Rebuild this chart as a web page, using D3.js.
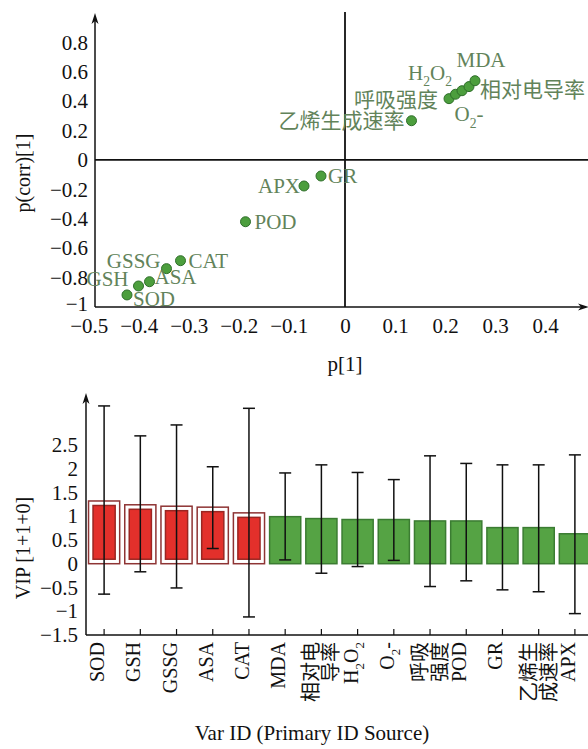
<!DOCTYPE html>
<html>
<head>
<meta charset="utf-8">
<script src="https://cdn.jsdelivr.net/npm/d3@7/dist/d3.min.js"></script>
<style>
  body { margin: 0; background: #fff; }
  svg { display: block; }
  text { font-family: "Liberation Serif", "Noto Sans CJK SC", serif; }
</style>
</head>
<body>
<svg width="588" height="749"></svg>
<script>
// ---- scatter (loadings) data ----
var varNames = ["MDA", "相对电导率", "H2O2", "O2-", "呼吸强度", "乙烯生成速率", "GR", "APX", "POD", "CAT", "GSSG", "ASA", "GSH", "SOD"];
var pX    = [0.260, 0.248, 0.234, 0.221, 0.208, 0.133, -0.048, -0.082, -0.199, -0.329, -0.357, -0.391, -0.413, -0.436];
var pCorr = [0.539, 0.499, 0.471, 0.447, 0.417, 0.267, -0.109, -0.177, -0.420, -0.685, -0.739, -0.828, -0.857, -0.918];
var xTicks = [-0.5, -0.4, -0.3, -0.2, -0.1, 0, 0.1, 0.2, 0.3, 0.4];
var yTicks = [-1, -0.8, -0.6, -0.4, -0.2, 0, 0.2, 0.4, 0.6, 0.8];

// ---- VIP data ----
var vipNames  = ["SOD", "GSH", "GSSG", "ASA", "CAT", "MDA", "相对电导率", "H2O2", "O2-", "呼吸强度", "POD", "GR", "乙烯生成速率", "APX"];
var vipValues = [1.32, 1.24, 1.21, 1.19, 1.07, 0.99, 0.95, 0.93, 0.93, 0.90, 0.90, 0.76, 0.76, 0.63];
var vipHigh   = [3.32, 2.69, 2.92, 2.04, 3.27, 1.91, 2.08, 1.92, 1.77, 2.27, 2.11, 2.08, 2.08, 2.29];
var vipLow    = [-0.64, -0.17, -0.51, 0.32, -1.12, 0.08, -0.20, -0.06, 0.07, -0.48, -0.36, -0.55, -0.59, -1.05];
var vipSelected = [true, true, true, true, true, false, false, false, false, false, false, false, false, false];
var vipTicks = [-1.5, -1, -0.5, 0, 0.5, 1, 1.5, 2, 2.5];

// label placement for the scatter (dx, dy, anchor)
var labelPos = {
  "MDA": [6, -14, "middle"], "相对电导率": [11, 10, "start"], "H2O2": [-10, -11, "end"],
  "O2-": [-1, 27, "start"], "呼吸强度": [-11, 8, "end"], "乙烯生成速率": [-7, 7, "end"],
  "GR": [7, 7, "start"], "APX": [-4, 7, "end"], "POD": [9, 7, "start"], "CAT": [8, 7, "start"],
  "GSSG": [-6, -1, "end"], "ASA": [5, 2, "start"], "GSH": [-10, 0, "end"], "SOD": [6, 11, "start"]
};
// rich text parts: 0 normal, 1 subscript, -1 superscript
var labelParts = {
  "H2O2": [["H", 0], ["2", 1], ["O", 0], ["2", 1]],
  "O2-": [["O", 0], ["2", 1], ["-", 0]]
};
var vipLines = { "相对电导率": ["相对电", "导率"], "呼吸强度": ["呼吸", "强度"], "乙烯生成速率": ["乙烯生", "成速率"] };

var svg = d3.select("svg");
var fs = 21;   // horizontal text
var fsr = 20;  // rotated text
var fmt = d3.format("~g");

function addParts(text, name, size, partsMap) {
  var parts = partsMap[name] || [[name, 0]];
  var shift = 0;
  parts.forEach(function (p) {
    var target = p[1] === 1 ? size * 0.3 : (p[1] === -1 ? -size * 0.4 : 0);
    text.append("tspan")
      .attr("dy", target - shift)
      .style("font-size", p[1] ? (size * 0.65) + "px" : null)
      .text(p[0]);
    shift = target;
  });
}

function arrow(g, x, y, dir) {
  // dir: "up" or "right"
  var d = dir === "up"
    ? "M" + x + "," + y + "L" + (x - 3.5) + "," + (y + 11) + "L" + x + "," + (y + 8) + "L" + (x + 3.5) + "," + (y + 11) + "Z"
    : "M" + x + "," + y + "L" + (x - 11) + "," + (y - 3.5) + "L" + (x - 8) + "," + y + "L" + (x - 11) + "," + (y + 3.5) + "Z";
  g.append("path").attr("d", d).attr("fill", "#111");
}

// ================= top: loading scatter =================
var x = d3.scaleLinear().domain([-0.5, 0.486]).range([95, 588]);
var y = d3.scaleLinear().domain([-1, 0.986]).range([307, 15]);
var gTop = svg.append("g");

// tick labels
gTop.append("g")
   .attr("transform", "translate(" + x(-0.5) + ",0)")
   .call(d3.axisLeft(y).tickValues(yTicks).tickSize(0).tickPadding(7).tickFormat(fmt))
   .call(function (g) { g.select(".domain").remove(); })
   .selectAll("text")
   .attr("dy", function (d) { return d === -1 ? "0.15em" : "0.32em"; })
   .style("font-size", fs + "px").style("font-family", "Liberation Serif").attr("fill", "#111");

gTop.append("g")
   .attr("transform", "translate(0," + y(-1) + ")")
   .call(d3.axisBottom(x).tickValues(xTicks).tickSize(0).tickPadding(11).tickFormat(fmt))
   .call(function (g) { g.select(".domain").remove(); })
   .selectAll("text")
   .attr("dx", function (d) { return d < 0 ? "-0.3em" : 0; })
   .style("font-size", fs + "px").style("font-family", "Liberation Serif").attr("fill", "#111");

// frame lines
gTop.append("line").attr("x1", x(-0.5)).attr("x2", x(-0.5)).attr("y1", y(-1)).attr("y2", 20)
   .attr("stroke", "#111").attr("stroke-width", 1.5);
arrow(gTop, x(-0.5), 13, "up");
gTop.append("line").attr("x1", x(-0.5)).attr("x2", 584).attr("y1", y(-1)).attr("y2", y(-1))
   .attr("stroke", "#111").attr("stroke-width", 1.5);
arrow(gTop, 589, y(-1), "right");
gTop.append("line").attr("x1", x(0)).attr("x2", x(0)).attr("y1", 12).attr("y2", y(-1))
   .attr("stroke", "#111").attr("stroke-width", 1.8);
gTop.append("line").attr("x1", x(-0.5)).attr("x2", 588).attr("y1", y(0)).attr("y2", y(0))
   .attr("stroke", "#111").attr("stroke-width", 1.8);

var pts = varNames.map(function (n, i) { return { name: n, px: pX[i], py: pCorr[i] }; });

gTop.selectAll("circle.pt")
   .data(pts.slice().reverse())
   .enter().append("circle")
   .attr("class", "pt")
   .attr("cx", function (d) { return x(d.px); })
   .attr("cy", function (d) { return y(d.py); })
   .attr("r", 5)
   .attr("fill", "#4c9e3d")
   .attr("stroke", "#2f6f2a")
   .attr("stroke-width", 1);

gTop.selectAll("text.lbl")
   .data(pts)
   .enter().append("text")
   .attr("class", "lbl")
   .attr("x", function (d) { return x(d.px) + labelPos[d.name][0]; })
   .attr("y", function (d) { return y(d.py) + labelPos[d.name][1]; })
   .attr("text-anchor", function (d) { return labelPos[d.name][2]; })
   .attr("fill", "#62835a")
   .style("font-size", fs + "px")
   .each(function (d) { addParts(d3.select(this), d.name, fs, labelParts); });

gTop.append("text").attr("x", x(0)).attr("y", 371).attr("text-anchor", "middle")
   .style("font-size", fs + "px").attr("fill", "#111").text("p[1]");
gTop.append("text").attr("transform", "translate(30,173) rotate(-90)").attr("text-anchor", "middle")
   .style("font-size", fsr + "px").attr("fill", "#111").text("p(corr)[1]");

// ================= bottom: VIP bar chart =================
var xb = d3.scaleBand().domain(vipNames).range([86, 593]).paddingInner(0.14).paddingOuter(0.07);
var yb = d3.scaleLinear().domain([-1.5, 3.55]).range([635, 395]);
var gBot = svg.append("g");

gBot.append("g")
   .attr("transform", "translate(" + 86 + ",0)")
   .call(d3.axisLeft(yb).tickValues(vipTicks).tickSize(0).tickPadding(8).tickFormat(fmt))
   .call(function (g) { g.select(".domain").remove(); })
   .selectAll("text").style("font-size", fs + "px").style("font-family", "Liberation Serif").attr("fill", "#111");

var vip = vipNames.map(function (n, i) {
  return { name: n, v: vipValues[i], hi: vipHigh[i], lo: vipLow[i], sel: vipSelected[i] };
});

var bars = gBot.selectAll("g.bar").data(vip).enter().append("g").attr("class", "bar");

bars.filter(function (d) { return d.sel; }).append("rect")
    .attr("x", function (d) { return xb(d.name); })
    .attr("y", function (d) { return yb(d.v); })
    .attr("width", xb.bandwidth())
    .attr("height", function (d) { return yb(0) - yb(d.v); })
    .attr("fill", "#fff").attr("stroke", "#8e3434").attr("stroke-width", 1.5);

bars.append("rect")
    .attr("x", function (d) { return xb(d.name) + (d.sel ? 4.5 : 0); })
    .attr("y", function (d) { return yb(d.v) + (d.sel ? 4.5 : 0); })
    .attr("width", function (d) { return xb.bandwidth() - (d.sel ? 9 : 0); })
    .attr("height", function (d) { return yb(0) - yb(d.v) - (d.sel ? 9 : 0); })
    .attr("fill", function (d) { return d.sel ? "#e3302b" : "#55a344"; })
    .attr("stroke", function (d) { return d.sel ? "#9a2622" : "#3b7c32"; })
    .attr("stroke-width", 1.5);

// error bars
bars.each(function (d) {
  var g = d3.select(this), cx = xb(d.name) + xb.bandwidth() / 2;
  g.append("line").attr("x1", cx).attr("x2", cx).attr("y1", yb(d.hi)).attr("y2", yb(d.lo))
   .attr("stroke", "#111").attr("stroke-width", 1.5);
  [d.hi, d.lo].forEach(function (v) {
    g.append("line").attr("x1", cx - 6).attr("x2", cx + 6).attr("y1", yb(v)).attr("y2", yb(v))
     .attr("stroke", "#111").attr("stroke-width", 1.5);
  });
});

// axes
gBot.append("line").attr("x1", 86).attr("x2", 86).attr("y1", yb(-1.5)).attr("y2", 400)
   .attr("stroke", "#111").attr("stroke-width", 1.5);
arrow(gBot, 86, 393, "up");
gBot.append("line").attr("x1", 86).attr("x2", 588).attr("y1", yb(-1.5)).attr("y2", yb(-1.5))
   .attr("stroke", "#111").attr("stroke-width", 1.5);

vipNames.forEach(function (n) {
  var cx = xb(n) + xb.bandwidth() / 2;
  gBot.append("line").attr("x1", cx).attr("x2", cx).attr("y1", yb(-1.5)).attr("y2", yb(-1.5) - 6)
     .attr("stroke", "#111").attr("stroke-width", 1.2);
  var lines = vipLines[n] || [n];
  lines.forEach(function (ln, k) {
    var off = lines.length === 1 ? 0 : (k === 0 ? -10 : 10);
    var t = gBot.append("text")
      .attr("transform", "translate(" + (cx + off) + "," + (yb(-1.5) + 7) + ") rotate(-90)")
      .attr("text-anchor", "end")
      .attr("dy", "0.35em")
      .attr("fill", "#111")
      .style("font-size", fsr + "px");
    if (lines.length === 1) addParts(t, ln, fsr, labelParts); else t.text(ln);
  });
});

gBot.append("text").attr("x", 312).attr("y", 740).attr("text-anchor", "middle")
   .style("font-size", fs + "px").attr("fill", "#111").text("Var ID (Primary ID Source)");
gBot.append("text").attr("transform", "translate(30,548) rotate(-90)").attr("text-anchor", "middle")
   .style("font-size", fsr + "px").attr("fill", "#111").text("VIP [1+1+0]");
</script>
</body>
</html>
